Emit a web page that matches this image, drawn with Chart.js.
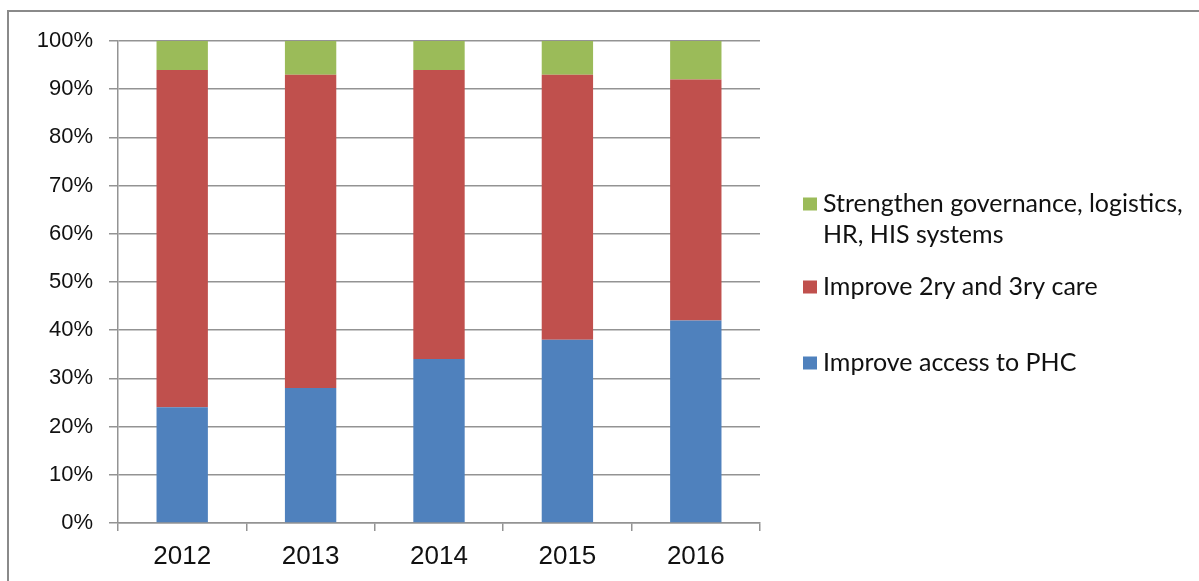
<!DOCTYPE html>
<html>
<head>
<meta charset="utf-8">
<script src="https://cdn.jsdelivr.net/npm/chart.js@4.4.1/dist/chart.umd.min.js"></script>
<style>
  html, body { margin: 0; padding: 0; background: #ffffff; overflow: hidden; }
  #wrap { position: relative; width: 1199px; height: 581px; }
  #frame {
    position: absolute; left: 7px; top: 10px; width: 1400px; height: 800px;
    border-top: 2px solid #8a8a8a; border-left: 2px solid #8a8a8a;
    box-sizing: border-box;
  }
  canvas { position: absolute; left: 0; top: 0; }
</style>
</head>
<body>
<div id="wrap">
  <div id="frame"></div>
  <canvas id="chart" width="1199" height="581"></canvas>
</div>
<script>
// Years on the category axis
const years = ['2012', '2013', '2014', '2015', '2016'];

// Share of funding per objective (percent of yearly total)
const accessPHC = [24, 28, 34, 38, 42];
const secondaryTertiaryCare = [70, 65, 60, 55, 50];
const systemsStrengthening = [6, 7, 6, 7, 8];

// Series names; legend text is wrapped onto these lines
const seriesNames = [
  'Improve access to PHC',
  'Improve 2ry and 3ry care',
  'Strengthen governance, logistics, HR, HIS systems'
];
const legendLines = [
  ['Improve access to PHC'],
  ['Improve 2ry and 3ry care'],
  ['Strengthen governance, logistics,', 'HR, HIS systems']
];

// Y-axis tick labels
const yTicks = [0, 10, 20, 30, 40, 50, 60, 70, 80, 90, 100];
const yTickLabels = yTicks.map(v => v + '%');

const colors = ['#4F81BD', '#C0504D', '#9BBB59'];
const gridColor = '#939393';

// Legend on the right, drawn top-down from the last series to the first
const sideLegend = {
  id: 'sideLegend',
  afterDraw(chart, args, opts) {
    const ctx = chart.ctx;
    const sets = chart.data.datasets;
    ctx.save();
    ctx.font = opts.font;
    ctx.textBaseline = 'middle';
    ctx.textAlign = 'left';
    const order = sets.map((d, i) => i).reverse();
    order.forEach((idx, row) => {
      const cy = opts.rowCenters[row];
      ctx.fillStyle = sets[idx].backgroundColor;
      ctx.fillRect(opts.boxX, cy - opts.boxSize / 2, opts.boxSize + 1, opts.boxSize);
      ctx.fillStyle = '#111111';
      legendLines[idx].forEach((line, k) => {
        ctx.fillText(line, opts.textX, cy + k * opts.lineHeight);
      });
    });
    ctx.restore();
  }
};

new Chart(document.getElementById('chart'), {
  type: 'bar',
  data: {
    labels: years,
    datasets: [
      { label: seriesNames[0], data: accessPHC, backgroundColor: colors[0] },
      { label: seriesNames[1], data: secondaryTertiaryCare, backgroundColor: colors[1] },
      { label: seriesNames[2], data: systemsStrengthening, backgroundColor: colors[2] }
    ]
  },
  options: {
    responsive: false,
    animation: false,
    devicePixelRatio: 1,
    layout: { padding: { left: 0, top: 41, right: 439, bottom: 0 } },
    datasets: { bar: { barPercentage: 0.4, categoryPercentage: 1.0, borderWidth: 0 } },
    plugins: {
      legend: { display: false },
      tooltip: { enabled: false },
      sideLegend: {
        font: '25px Lato',
        boxX: 803,
        boxSize: 13,
        textX: 823,
        lineHeight: 31,
        rowCenters: [204, 287, 363]
      }
    },
    scales: {
      x: {
        stacked: true,
        afterFit(scale) { scale.height = 58; },
        grid: {
          offset: true,
          drawOnChartArea: false,
          drawTicks: true,
          tickLength: 8,
          color: gridColor,
          lineWidth: 1.5
        },
        border: { display: true, color: gridColor, width: 1.5 },
        ticks: {
          padding: 10,
          color: '#111111',
          font: { family: 'Liberation Sans', size: 26 }
        }
      },
      y: {
        stacked: true,
        min: 0,
        max: 100,
        afterFit(scale) { scale.width = 118; },
        afterBuildTicks(scale) { scale.ticks = yTicks.map(v => ({ value: v })); },
        grid: {
          color: gridColor,
          lineWidth: 1.5,
          drawTicks: true,
          tickLength: 9
        },
        border: { display: true, color: gridColor, width: 1.5 },
        ticks: {
          padding: 16,
          color: '#111111',
          font: { family: 'Liberation Sans', size: 22 },
          callback: (v, i) => yTickLabels[yTicks.indexOf(v)]
        }
      }
    }
  },
  plugins: [sideLegend]
});
</script>
</body>
</html>
